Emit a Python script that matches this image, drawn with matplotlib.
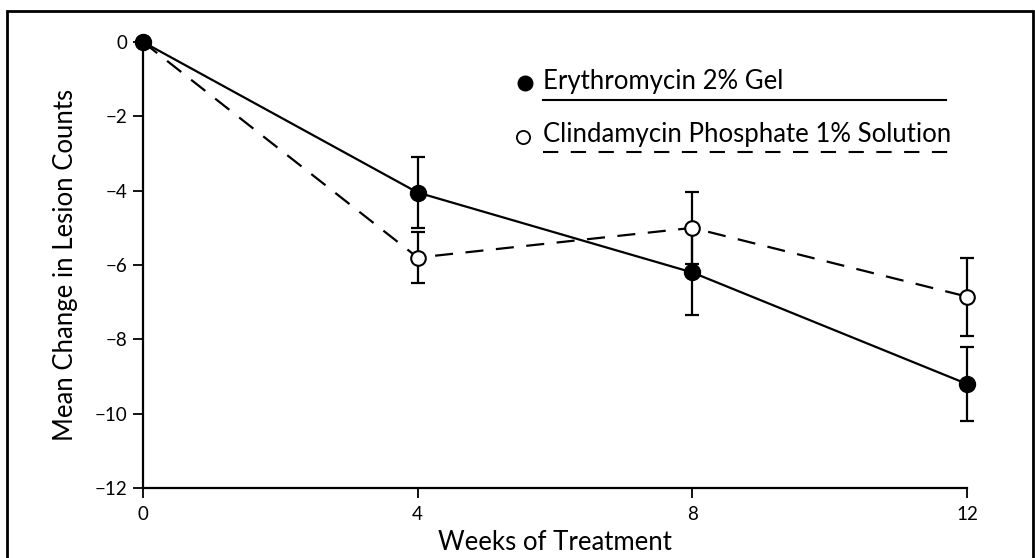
import matplotlib
matplotlib.use("Agg")
import matplotlib.pyplot as plt
from matplotlib.patches import Rectangle
from matplotlib.lines import Line2D

plt.rcParams['font.family'] = ['Lato', 'DejaVu Sans']
plt.rcParams['lines.scale_dashes'] = False

# data
weeks = [0, 4, 8, 12]
ery_mean = [0, -4.05, -6.2, -9.2]
ery_err = [0, 0.95, 1.15, 1.0]
cli_mean = [0, -5.8, -5.0, -6.85]
cli_err = [0, 0.68, 0.97, 1.05]
ery_label = "Erythromycin 2% Gel"
cli_label = "Clindamycin Phosphate 1% Solution"
yticks = [0, -2, -4, -6, -8, -10, -12]
xticks = [0, 4, 8, 12]

fig = plt.figure(figsize=(10.35, 5.58), dpi=100)
ax = fig.add_axes([0.1382, 0.1254, 0.7961, 0.7993])

# clindamycin (dashed, open circles)
ax.errorbar(weeks[1:], cli_mean[1:], yerr=cli_err[1:], fmt='none', ecolor='black',
            elinewidth=1.6, capsize=5, capthick=1.6, clip_on=False, zorder=2)
ax.plot(weeks, cli_mean, color='black', lw=1.6, dashes=(13, 9), zorder=2, clip_on=False)
ax.plot(weeks, cli_mean, 'o', ms=10.5, mfc='white', mec='black', mew=1.5,
        clip_on=False, zorder=3)

# erythromycin (solid, filled circles)
ax.errorbar(weeks[1:], ery_mean[1:], yerr=ery_err[1:], fmt='none', ecolor='black',
            elinewidth=1.6, capsize=5, capthick=1.6, clip_on=False, zorder=2)
ax.plot(weeks, ery_mean, color='black', lw=1.6, zorder=2, clip_on=False)
ax.plot(weeks, ery_mean, 'o', ms=11.5, color='black', clip_on=False, zorder=4)

ax.set_xlim(0, 12)
ax.set_ylim(-12, 0)
ax.set_xticks(xticks)
ax.set_yticks(yticks)
ax.set_yticklabels(['0' if v == 0 else '\u2212%d' % abs(v) for v in yticks])
ax.tick_params(axis='both', direction='out', length=7, width=1.3, labelsize=13.5,
               colors='black')
ax.tick_params(axis='x', pad=6)
ax.tick_params(axis='y', pad=4)
for s in ['top', 'right']:
    ax.spines[s].set_visible(False)
for s in ['left', 'bottom']:
    ax.spines[s].set_linewidth(1.6)

ax.set_xlabel("Weeks of Treatment", fontsize=18.5, labelpad=5)
ax.set_ylabel("Mean Change in Lesion Counts", fontsize=18.5, labelpad=12)

# legend drawn by hand: marker, label, underline in line style
lx0, lx1 = 0.485, 0.975
ax.plot([0.463], [0.908], 'o', ms=10.5, color='black', transform=ax.transAxes, clip_on=False)
ax.text(lx0, 0.911, ery_label, fontsize=18.5, va='center', ha='left', transform=ax.transAxes)
ax.add_line(Line2D([lx0, lx1], [0.870, 0.870], color='black', lw=1.5,
                   transform=ax.transAxes, clip_on=False))
ax.plot([0.461], [0.787], 'o', ms=9.5, mfc='white', mec='black', mew=1.3,
        transform=ax.transAxes, clip_on=False)
ax.text(lx0, 0.792, cli_label, fontsize=18.5, va='center', ha='left', transform=ax.transAxes)
ax.add_line(Line2D([lx0, lx1 + 0.01], [0.753, 0.753], color='black', lw=1.5, dashes=(11, 9),
                   transform=ax.transAxes, clip_on=False))

# frame around the whole figure
fig.patches.append(Rectangle((0.007, -0.01), 0.991, 0.99, transform=fig.transFigure,
                             fill=False, edgecolor='black', lw=2))

fig.savefig("out.png", dpi=100)
